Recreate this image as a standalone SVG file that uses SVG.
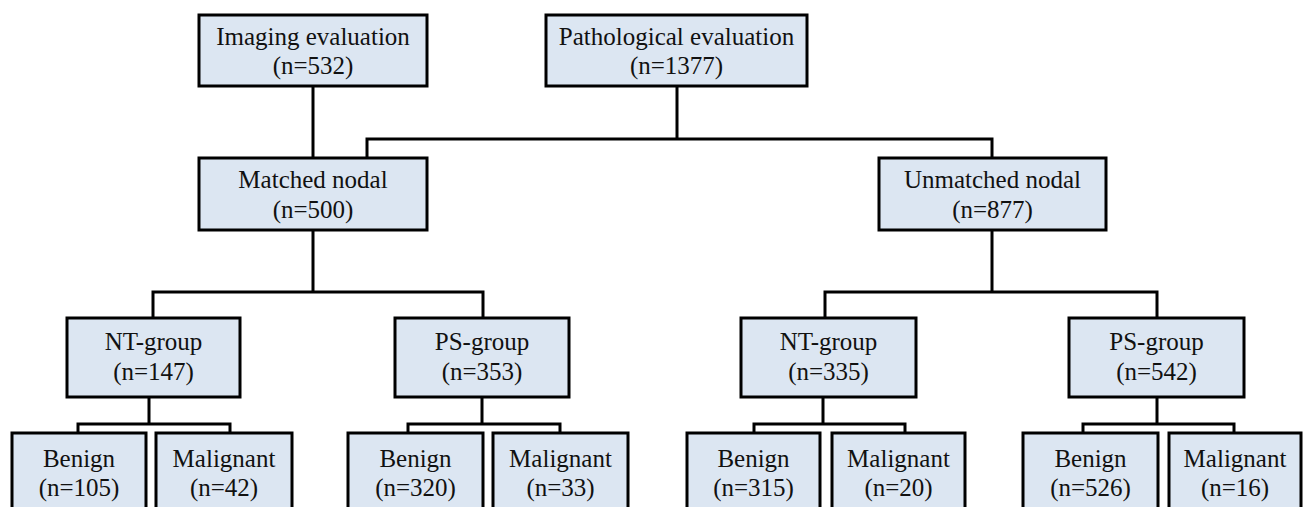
<svg xmlns="http://www.w3.org/2000/svg" width="1303" height="507" viewBox="0 0 1303 507">
<style>
.box{fill:#dce6f2;stroke:#000;stroke-width:3}
.t{font-family:"Liberation Serif","Times New Roman",serif;font-size:25px;fill:#111;text-anchor:middle}
.c{fill:none;stroke:#000;stroke-width:3}
</style>
<rect width="1303" height="507" fill="#fff"/>
<g id="connectors">
<path class="c" d="M313 86V158"/>
<path class="c" d="M677 86V139M367 158V139H992V158"/>
<path class="c" d="M313 230V292M153 318V292H483V318"/>
<path class="c" d="M992 230V292M825 318V292H1157V318"/>
<path class="c" d="M149 397V424M78 433V424H230V433"/>
<path class="c" d="M482 397V424M408 433V424H560V433"/>
<path class="c" d="M823 397V424M754 433V424H905V433"/>
<path class="c" d="M1157 397V424M1083 433V424H1234V433"/>
</g>
<g id="imaging"><rect class="box" x="199" y="15" width="228" height="71"/><text class="t" x="313" y="45">Imaging evaluation</text><text class="t" x="313" y="74">(n=532)</text></g>
<g id="pathological"><rect class="box" x="546" y="15" width="261" height="71"/><text class="t" x="676.5" y="45">Pathological evaluation</text><text class="t" x="676.5" y="74">(n=1377)</text></g>
<g id="matched"><rect class="box" x="199" y="158" width="228" height="72"/><text class="t" x="313" y="188">Matched nodal</text><text class="t" x="313" y="218">(n=500)</text></g>
<g id="unmatched"><rect class="box" x="879" y="158" width="227" height="72"/><text class="t" x="992.5" y="188">Unmatched nodal</text><text class="t" x="992.5" y="218">(n=877)</text></g>
<g id="nt1"><rect class="box" x="67" y="318" width="173" height="79"/><text class="t" x="153.5" y="350">NT-group</text><text class="t" x="153.5" y="380">(n=147)</text></g>
<g id="ps1"><rect class="box" x="395" y="318" width="174" height="79"/><text class="t" x="482" y="350">PS-group</text><text class="t" x="482" y="380">(n=353)</text></g>
<g id="nt2"><rect class="box" x="741" y="318" width="175" height="79"/><text class="t" x="828.5" y="350">NT-group</text><text class="t" x="828.5" y="380">(n=335)</text></g>
<g id="ps2"><rect class="box" x="1069" y="318" width="175" height="79"/><text class="t" x="1156.5" y="350">PS-group</text><text class="t" x="1156.5" y="380">(n=542)</text></g>
<g id="benign1"><rect class="box" x="12" y="433" width="134" height="90"/><text class="t" x="79" y="467">Benign</text><text class="t" x="79" y="496">(n=105)</text></g>
<g id="malignant1"><rect class="box" x="156" y="433" width="136" height="90"/><text class="t" x="224" y="467">Malignant</text><text class="t" x="224" y="496">(n=42)</text></g>
<g id="benign2"><rect class="box" x="348" y="433" width="135" height="90"/><text class="t" x="415.5" y="467">Benign</text><text class="t" x="415.5" y="496">(n=320)</text></g>
<g id="malignant2"><rect class="box" x="493" y="433" width="135" height="90"/><text class="t" x="560.5" y="467">Malignant</text><text class="t" x="560.5" y="496">(n=33)</text></g>
<g id="benign3"><rect class="box" x="687" y="433" width="133" height="90"/><text class="t" x="753.5" y="467">Benign</text><text class="t" x="753.5" y="496">(n=315)</text></g>
<g id="malignant3"><rect class="box" x="832" y="433" width="133" height="90"/><text class="t" x="898.5" y="467">Malignant</text><text class="t" x="898.5" y="496">(n=20)</text></g>
<g id="benign4"><rect class="box" x="1023" y="433" width="135" height="90"/><text class="t" x="1090.5" y="467">Benign</text><text class="t" x="1090.5" y="496">(n=526)</text></g>
<g id="malignant4"><rect class="box" x="1169" y="433" width="132" height="90"/><text class="t" x="1235" y="467">Malignant</text><text class="t" x="1235" y="496">(n=16)</text></g>
</svg>
